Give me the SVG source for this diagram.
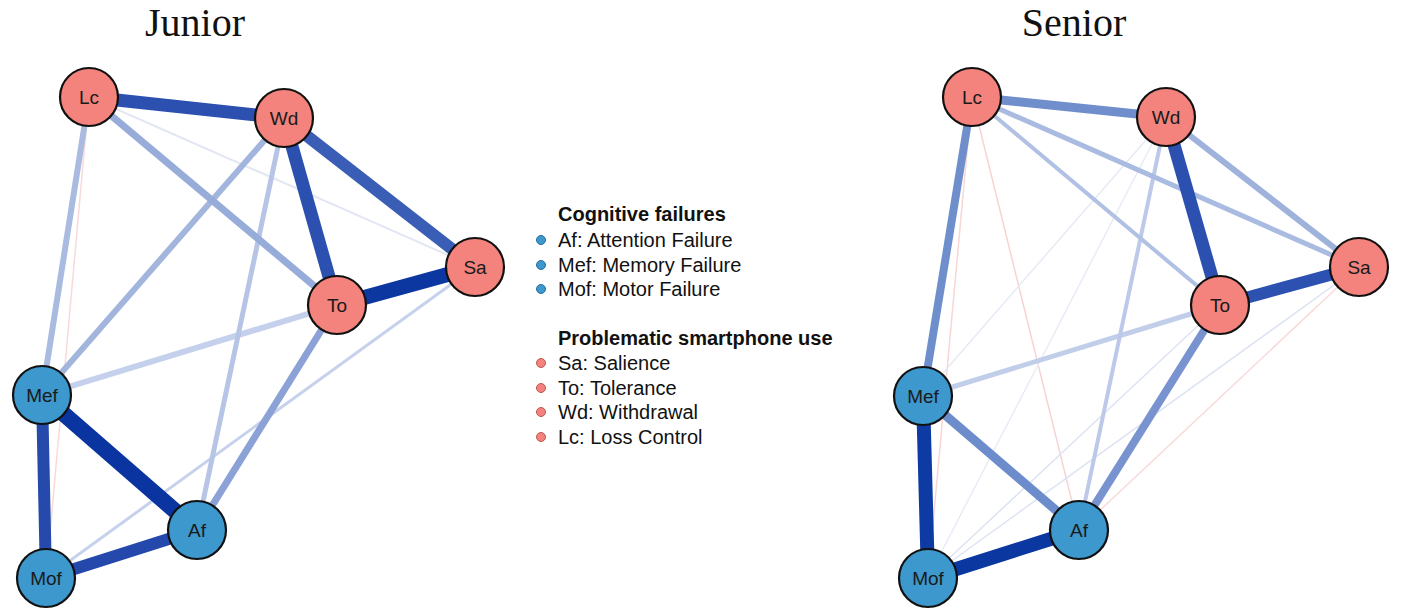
<svg xmlns="http://www.w3.org/2000/svg" width="1418" height="614" viewBox="0 0 1418 614">
<style>
.title{font-family:"Liberation Serif","Times New Roman",serif;font-size:40px;fill:#111;text-anchor:middle}
.nd circle{stroke:#111;stroke-width:2.2}
.psu circle{fill:#F3837C}
.cf circle{fill:#3C98CD}
.nd text{font-family:"Liberation Sans",Arial,sans-serif;font-size:19px;fill:#1a1a1a;text-anchor:middle;dominant-baseline:central}
.edges line{stroke-linecap:butt;fill:none}
.lg{font-family:"Liberation Sans",Arial,sans-serif;font-size:20px;fill:#111}
.lgh{font-family:"Liberation Sans",Arial,sans-serif;font-size:20px;font-weight:bold;fill:#111}
.bb{fill:#3C98CD;stroke:#2a6f99;stroke-width:1}
.bp{fill:#F3837C;stroke:#b85a55;stroke-width:1}
</style>
<rect width="1418" height="614" fill="#fff"/>
<text class="title" x="195" y="36">Junior</text>
<text class="title" x="1074" y="36">Senior</text>

<g id="edges-junior" class="edges">
<line x1="89" y1="97" x2="46" y2="578" stroke="#F9D9D9" stroke-width="1.5"/>
<line x1="89" y1="97" x2="475" y2="267" stroke="#E2E7F3" stroke-width="2"/>
<line x1="475" y1="267" x2="46" y2="578" stroke="#C6D2EC" stroke-width="3"/>
<line x1="337" y1="305" x2="42" y2="395" stroke="#C5D1EC" stroke-width="6"/>
<line x1="284" y1="118" x2="197" y2="530" stroke="#B6C5E6" stroke-width="5"/>
<line x1="89" y1="97" x2="42" y2="395" stroke="#A9BBE0" stroke-width="6"/>
<line x1="284" y1="118" x2="42" y2="395" stroke="#A2B5DD" stroke-width="6"/>
<line x1="89" y1="97" x2="337" y2="305" stroke="#98ACDA" stroke-width="7"/>
<line x1="337" y1="305" x2="197" y2="530" stroke="#8CA2D6" stroke-width="7"/>
<line x1="284" y1="118" x2="475" y2="267" stroke="#3A5EB6" stroke-width="12"/>
<line x1="89" y1="97" x2="284" y2="118" stroke="#2B50B0" stroke-width="13"/>
<line x1="284" y1="118" x2="337" y2="305" stroke="#2B50B0" stroke-width="13"/>
<line x1="337" y1="305" x2="475" y2="267" stroke="#0C36A0" stroke-width="15"/>
<line x1="42" y1="395" x2="46" y2="578" stroke="#2649AC" stroke-width="12"/>
<line x1="197" y1="530" x2="46" y2="578" stroke="#2448AB" stroke-width="12"/>
<line x1="42" y1="395" x2="197" y2="530" stroke="#0A34A0" stroke-width="16"/>
</g>

<g id="edges-senior" class="edges">
<line x1="972" y1="97" x2="928" y2="578" stroke="#F9D6D6" stroke-width="1.5"/>
<line x1="972" y1="97" x2="1079" y2="530" stroke="#F7D3D3" stroke-width="1.5"/>
<line x1="1359" y1="267" x2="1079" y2="530" stroke="#F9DADA" stroke-width="1.5"/>
<line x1="1166" y1="117" x2="923" y2="396" stroke="#E6EAF5" stroke-width="1.5"/>
<line x1="1166" y1="117" x2="928" y2="578" stroke="#E8ECF6" stroke-width="1.5"/>
<line x1="1220" y1="305" x2="928" y2="578" stroke="#DCE3F2" stroke-width="1.5"/>
<line x1="1359" y1="267" x2="928" y2="578" stroke="#DCE3F2" stroke-width="1.5"/>
<line x1="1220" y1="305" x2="923" y2="396" stroke="#C1CEEA" stroke-width="5"/>
<line x1="1166" y1="117" x2="1079" y2="530" stroke="#BCC9E8" stroke-width="4"/>
<line x1="972" y1="97" x2="1220" y2="305" stroke="#B1C1E4" stroke-width="4"/>
<line x1="972" y1="97" x2="1359" y2="267" stroke="#A9BBE0" stroke-width="5"/>
<line x1="1166" y1="117" x2="1359" y2="267" stroke="#9EB2DC" stroke-width="6"/>
<line x1="972" y1="97" x2="1166" y2="117" stroke="#6F8ECB" stroke-width="9"/>
<line x1="972" y1="97" x2="923" y2="396" stroke="#6F8FCC" stroke-width="8"/>
<line x1="1220" y1="305" x2="1079" y2="530" stroke="#7893CF" stroke-width="8"/>
<line x1="923" y1="396" x2="1079" y2="530" stroke="#6D8CCB" stroke-width="9"/>
<line x1="1166" y1="117" x2="1220" y2="305" stroke="#2B50B0" stroke-width="13"/>
<line x1="1220" y1="305" x2="1359" y2="267" stroke="#2C51B0" stroke-width="12"/>
<line x1="923" y1="396" x2="928" y2="578" stroke="#0E3BA3" stroke-width="14"/>
<line x1="1079" y1="530" x2="928" y2="578" stroke="#0A37A0" stroke-width="14"/>
</g>

<g id="j-Lc" class="nd psu"><circle cx="89" cy="97" r="29"/><text x="89" y="97">Lc</text></g>
<g id="j-Wd" class="nd psu"><circle cx="284" cy="118" r="29"/><text x="284" y="118">Wd</text></g>
<g id="j-Sa" class="nd psu"><circle cx="475" cy="267" r="29"/><text x="475" y="267">Sa</text></g>
<g id="j-To" class="nd psu"><circle cx="337" cy="305" r="29"/><text x="337" y="305">To</text></g>
<g id="j-Mef" class="nd cf"><circle cx="42" cy="395" r="29"/><text x="42" y="395">Mef</text></g>
<g id="j-Af" class="nd cf"><circle cx="197" cy="530" r="29"/><text x="197" y="530">Af</text></g>
<g id="j-Mof" class="nd cf"><circle cx="46" cy="578" r="29"/><text x="46" y="578">Mof</text></g>

<g id="s-Lc" class="nd psu"><circle cx="972" cy="97" r="29"/><text x="972" y="97">Lc</text></g>
<g id="s-Wd" class="nd psu"><circle cx="1166" cy="117" r="29"/><text x="1166" y="117">Wd</text></g>
<g id="s-Sa" class="nd psu"><circle cx="1359" cy="267" r="29"/><text x="1359" y="267">Sa</text></g>
<g id="s-To" class="nd psu"><circle cx="1220" cy="305" r="29"/><text x="1220" y="305">To</text></g>
<g id="s-Mef" class="nd cf"><circle cx="923" cy="396" r="29"/><text x="923" y="396">Mef</text></g>
<g id="s-Af" class="nd cf"><circle cx="1079" cy="530" r="29"/><text x="1079" y="530">Af</text></g>
<g id="s-Mof" class="nd cf"><circle cx="928" cy="578" r="29"/><text x="928" y="578">Mof</text></g>

<g id="legend">
<text class="lgh" x="558" y="221">Cognitive failures</text>
<circle class="bb" cx="541" cy="240" r="4.5"/><text class="lg" x="558" y="247">Af: Attention Failure</text>
<circle class="bb" cx="541" cy="265" r="4.5"/><text class="lg" x="558" y="272">Mef: Memory Failure</text>
<circle class="bb" cx="541" cy="289" r="4.5"/><text class="lg" x="558" y="296">Mof: Motor Failure</text>
<text class="lgh" x="558" y="345">Problematic smartphone use</text>
<circle class="bp" cx="541" cy="363" r="4.5"/><text class="lg" x="558" y="370">Sa: Salience</text>
<circle class="bp" cx="541" cy="388" r="4.5"/><text class="lg" x="558" y="395">To: Tolerance</text>
<circle class="bp" cx="541" cy="412" r="4.5"/><text class="lg" x="558" y="419">Wd: Withdrawal</text>
<circle class="bp" cx="541" cy="437" r="4.5"/><text class="lg" x="558" y="444">Lc: Loss Control</text>
</g>
</svg>
